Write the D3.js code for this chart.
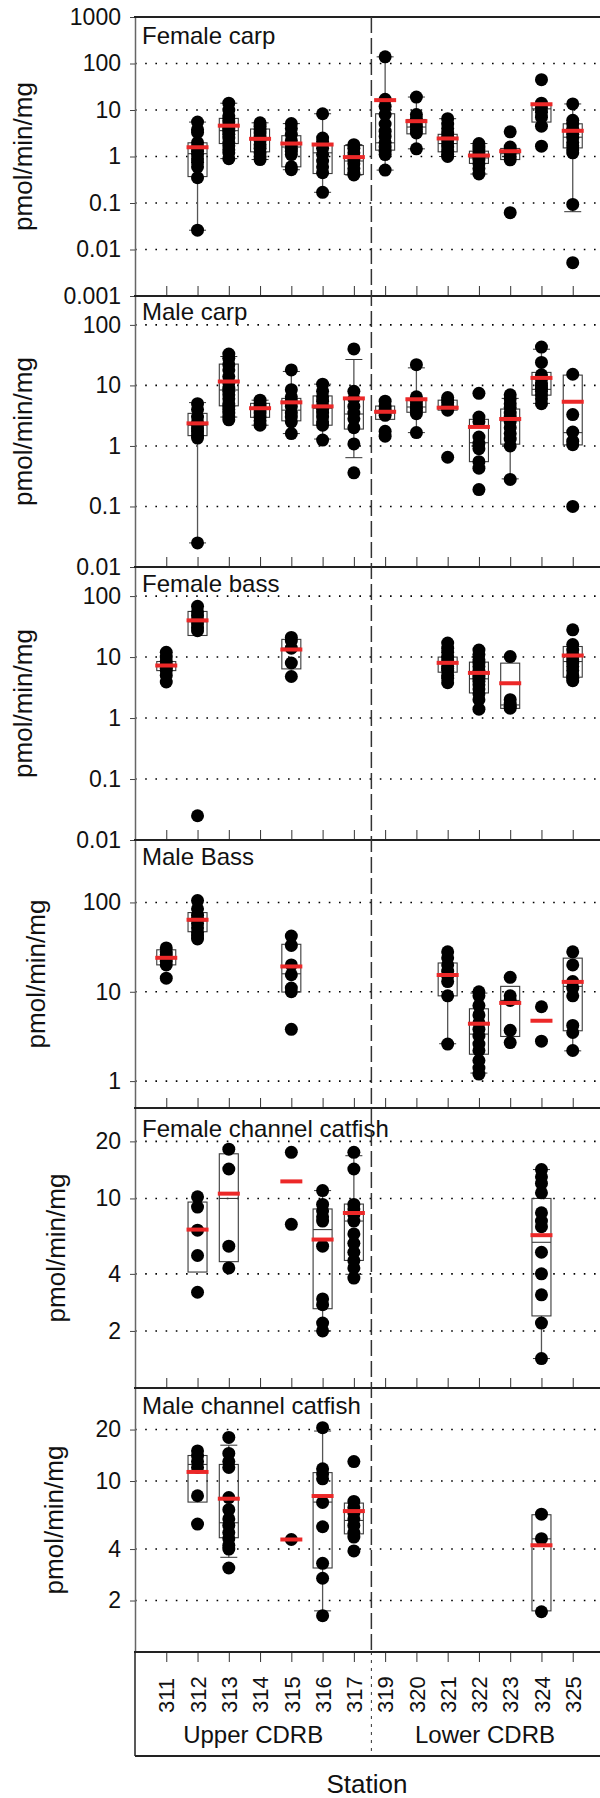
<!DOCTYPE html>
<html>
<head>
<meta charset="utf-8">
<script src="https://cdn.jsdelivr.net/npm/d3@7"></script>
<style>
  body { margin: 0; background: #fff; }
  svg { display: block; font-family: "Liberation Sans", Arial, sans-serif; }
</style>
</head>
<body>
<script>
// categories and labels
const stations = ["311", "312", "313", "314", "315", "316", "317", "319", "320", "321", "322", "323", "324", "325"];
const regions = ["Upper CDRB", "Lower CDRB"];
const panelTitles = ["Female carp", "Male carp", "Female bass", "Male Bass", "Female channel catfish", "Male channel catfish"];
const yTitle = "pmol/min/mg";
const xTitle = "Station";
const yDomains = [[0.001, 1000], [0.01, 300], [0.01, 300], [0.5, 500], [1, 30], [1, 35]];
const yTicks = [
  [0.001, 0.01, 0.1, 1, 10, 100, 1000],
  [0.01, 0.1, 1, 10, 100],
  [0.01, 0.1, 1, 10, 100],
  [1, 10, 100],
  [2, 4, 10, 20],
  [2, 4, 10, 20]
];

// individual fish, one list per station (same order as stations)
const femaleCarpPts = [[], [5.5, 3.8, 3.3, 2.0, 1.6, 1.3, 1.1, 0.9, 0.75, 0.6, 0.35, 0.026], [14, 10, 7.5, 6.5, 5.5, 4.5, 4, 3.5, 3, 2.5, 2, 1.7, 1.4, 1.2, 0.9], [5.3, 4.5, 3.8, 3.2, 2.6, 2.2, 1.8, 1.5, 1.2, 1.0, 0.86], [5.1, 4.0, 3.0, 2.2, 1.8, 1.5, 1.3, 1.1, 0.6, 0.52], [8.3, 2.5, 2.1, 1.5, 1.1, 0.8, 0.6, 0.45, 0.17], [1.8, 1.5, 1.2, 1.0, 0.85, 0.7, 0.55, 0.45, 0.4], [139, 17, 12, 8, 5, 3.5, 2.7, 2, 1.6, 1.3, 1.1, 0.51], [19, 8, 6.5, 5.5, 4.5, 3.8, 3.2, 1.46], [6.5, 5, 4, 3.2, 2.7, 2.3, 1.9, 1.6, 1.3, 1.1, 1.0], [1.9, 1.6, 1.4, 1.2, 1.05, 0.95, 0.85, 0.7, 0.55, 0.42], [3.4, 1.6, 1.4, 1.2, 1.0, 0.85, 0.062], [45, 14, 11, 9, 7, 4.5, 1.67], [13.5, 6, 5, 4, 3.5, 3, 2.5, 2, 1.7, 1.4, 1.2, 0.093, 0.0052]];
// box: [low whisker, q1, median, q3, high whisker]
const femaleCarpBox = [null, [0.026, 0.37, 1.15, 1.97, 5.5], [0.9, 1.9, 3.6, 6.6, 14], [0.86, 1.26, 2.3, 3.9, 5.3], [0.52, 0.6, 1.6, 2.8, 5.1], [0.17, 0.43, 1.2, 1.9, 8.3], [0.4, 0.41, 0.8, 1.72, 1.8], [0.51, 1.37, 1.97, 8.3, 139], [1.46, 3.07, 4.3, 6.25, 19], [1.0, 1.26, 1.9, 3.0, 6.5], [0.42, 0.71, 0.93, 1.3, 1.9], [0.86, 0.86, 1.15, 1.49, 1.49], [5.5, 5.5, 10.6, 13, 13], [0.065, 1.53, 2.6, 5.05, 13.5]];
const femaleCarpMean = [null, 1.58, 4.6, 2.4, 1.9, 1.81, 0.97, 16.3, 5.75, 2.44, 1.05, 1.3, 13.3, 3.57];

const maleCarpPts = [[], [5, 4, 3, 2.5, 2.2, 1.9, 1.7, 1.5, 1.35, 0.025], [33, 28, 22, 18, 14, 11, 9, 8, 7, 6, 5, 4.5, 4, 3.5, 3, 2.7], [5.7, 5, 4.5, 4, 3.5, 3, 2.6, 2.2], [18, 8.5, 6.5, 5.5, 4.5, 3.5, 3, 2.5, 1.6], [10.5, 8, 6.5, 5.5, 4.5, 4, 3.5, 3, 2.5, 2.2, 1.25], [40, 8, 6, 4.5, 3.5, 2.8, 2, 1.08, 0.36], [5.5, 4.5, 4, 3.6, 3.2, 1.75, 1.45], [22, 6.5, 5.5, 4.8, 4.2, 3.8, 3.4, 1.66], [6.3, 5.8, 5.2, 4.6, 4.2, 3.9, 0.65], [7.4, 3.0, 2.5, 1.4, 1.1, 0.9, 0.55, 0.43, 0.19], [7, 6, 5, 4.3, 3.5, 3, 2.5, 2.0, 1.6, 1.3, 1.0, 0.28], [43, 24, 15, 13, 11, 10, 9, 8, 7, 6, 5], [15.3, 3.3, 1.7, 1.2, 1.05, 0.1]];
const maleCarpBox = [null, [0.025, 1.48, 2.2, 3.45, 5.2], [3, 4.6, 8.4, 22.5, 30], [2.2, 2.97, 4.1, 5.05, 5.7], [1.6, 2.6, 3.9, 6.1, 17], [1.3, 2.2, 4.2, 6.7, 10.5], [0.64, 1.9, 3.37, 6.1, 26.8], [2.75, 2.75, 3.5, 4.56, 4.56], [1.66, 3.6, 4.4, 6.1, 19.5], [3.9, 3.9, 4.5, 5.7, 5.7], [0.55, 0.55, 1.13, 2.75, 2.75], [0.286, 1.07, 2.6, 4.07, 6.1], [5.05, 6.9, 8.6, 16.4, 39.6], [1.04, 1.04, 1.66, 14.8, 14.8]];
const maleCarpMean = [null, 2.36, 11.6, 4.2, 5.25, 4.5, 6.1, 3.67, 5.9, 4.28, 2.06, 2.79, 13.3, 5.37];

const femaleBassPts = [[12, 10, 8.5, 7.5, 7, 6.5, 6, 5, 3.9], [68, 55, 47, 40, 35, 30, 27, 0.025], [], [], [21, 18.5, 14, 8, 4.8], [], [], [], [], [17, 14, 12, 10, 9, 8, 7, 6.5, 6, 5, 4.5, 3.8], [13, 11, 9, 8, 7, 6, 5, 4.5, 4, 3.5, 3, 2.5, 2, 1.4], [10.2, 2, 1.7, 1.55, 1.45], [], [28, 16, 13, 11, 10, 9, 8, 7, 6, 5, 4.5, 4.1]];
const femaleBassBox = [[6.0, 6.0, 7.0, 8.45, 8.45], [22.6, 22.6, 38, 56, 56], null, null, [6.4, 6.4, 14, 19.5, 19.5], null, null, null, null, [5.65, 5.65, 8, 10, 10], [2.58, 2.58, 4.4, 8.26, 8.26], [1.44, 1.44, 1.64, 7.95, 7.95], null, [4.68, 4.68, 8.45, 14.9, 14.9]];
const femaleBassMean = [7.27, 40, null, null, 13.3, null, null, null, null, 8.04, 5.5, 3.72, null, 10.6];

const maleBassPts = [[31, 28, 26, 24, 22, 20, 14.2], [105, 85, 72, 65, 58, 52, 46, 42, 39], [], [], [42, 33, 20, 15.5, 11, 10, 3.8], [], [], [], [], [28, 24, 20, 17, 15, 13, 9, 2.6], [10, 9, 7, 5.5, 4.5, 3.8, 3.2, 2.6, 2.2, 1.7, 1.4, 1.2], [14.5, 9, 8, 3.7, 2.7], [6.8, 2.8], [28, 20, 13, 11, 9, 4.2, 3.5, 2.2]];
const maleBassBox = [[20, 20, 24, 29.5, 29.5], [47, 47, 62, 77, 77], null, null, [9.93, 9.93, 15.9, 34, 34], null, null, null, null, [2.62, 9.0, 16, 21, 21], [1.23, 2.0, 3.36, 6.45, 9.67], [3.16, 3.16, 8, 11.5, 11.5], null, [2.18, 3.66, 11.5, 23.8, 23.8]];
const maleBassMean = [24, 64, null, null, 19.2, null, null, null, null, 15.4, 4.39, 7.5, 4.74, 12.9];

const femaleCatfishPts = [[], [10.2, 9, 6.8, 5.0, 3.2], [18.2, 14.3, 5.6, 4.3], [], [17.5, 7.3], [11, 9.3, 8.6, 8, 7.6, 5.6, 2.95, 2.75, 2.2, 2.0], [17.5, 14.3, 9.3, 8.8, 8.2, 7.6, 6.5, 5.8, 5.2, 4.7, 4.3, 3.8], [], [], [], [], [], [14.2, 13, 12, 10.7, 8.4, 7.6, 7.1, 5.2, 4.0, 3.1, 2.2, 1.43], []];
const femaleCatfishBox = [null, [4.09, 4.09, 6.85, 9.57, 9.57], [4.64, 4.64, 10, 17.2, 17.2], null, null, [2.0, 2.62, 6.85, 8.8, 11], [3.98, 4.71, 7.6, 9.34, 16.8], null, null, null, null, null, [1.43, 2.4, 5.87, 10, 14.2], null];
const femaleCatfishMean = [null, 6.85, 10.6, null, 12.3, 6.07, 8.38, null, null, null, null, null, 6.4, null];

const maleCatfishPts = [[], [15, 14, 13, 12, 8.2, 5.6], [18, 14.5, 13, 12, 8, 6.8, 6, 5.5, 5, 4.6, 4.2, 4.0, 3.1], [], [4.55], [20.5, 11.8, 11, 10.3, 7.5, 5.4, 3.3, 2.7, 1.63], [13, 7.6, 7, 6.5, 6, 5.5, 5, 4.7, 3.9], [], [], [], [], [], [6.4, 4.6, 1.72], []];
const maleCatfishBox = [null, [7.53, 7.53, 12.5, 14.1, 14.1], [3.58, 4.66, 5.7, 12.5, 16.2], null, null, [1.74, 3.1, 7.53, 11.2, 19.6], [4.91, 4.91, 5.88, 7.43, 7.43], null, null, null, null, null, [1.74, 1.74, 4.59, 6.35, 6.35], null];
const maleCatfishMean = [null, 11.3, 7.88, null, 4.55, 8.17, 6.67, null, null, null, null, null, 4.21, null];

const allPts = [femaleCarpPts, maleCarpPts, femaleBassPts, maleBassPts, femaleCatfishPts, maleCatfishPts];
const allBox = [femaleCarpBox, maleCarpBox, femaleBassBox, maleBassBox, femaleCatfishBox, maleCatfishBox];
const allMean = [femaleCarpMean, maleCarpMean, femaleBassMean, maleBassMean, femaleCatfishMean, maleCatfishMean];

// layout
const width = 600, height = 1798;
const axisX = 135, rightX = 604;
const edges = [17, 296, 567, 840, 1108, 1388, 1652];
const boxBottom = 1756;
const titleBase = [32, 32, 32, 44.5, 65, 63];   // x of rotated y title baseline
const dotR = 6.5, boxHalf = 9.5, meanHalf = 11, capHalf = 8.5;
const red = "#ec2828", dark = "#222";

const svg = d3.select("body").append("svg")
  .attr("width", width)
  .attr("height", height);

const x = d3.scaleLinear().domain([0, 15]).range([axisX, rightX]);
const xs = i => x(i + 1);
const dividerX = x(7.56);

allPts.forEach((pts, k) => {
  const top = edges[k], bot = edges[k + 1];
  const y = d3.scaleLog().domain(yDomains[k]).range([bot, top]);
  const g = svg.append("g");

  // dotted grid
  g.append("g").selectAll("line")
    .data(yTicks[k].filter(v => y(v) > top + 2 && y(v) < bot - 2))
    .join("line")
    .attr("x1", axisX).attr("x2", rightX)
    .attr("y1", d => y(d)).attr("y2", d => y(d))
    .attr("stroke", "#000")
    .attr("stroke-width", 1.6)
    .attr("stroke-dasharray", "1.6,8.6");

  // y axis
  const ya = g.append("g")
    .attr("transform", `translate(${axisX},0)`)
    .call(d3.axisLeft(y).tickValues(yTicks[k]).tickFormat(d => String(d)).tickSize(5).tickSizeOuter(0).tickPadding(9));
  ya.select(".domain").attr("stroke", "#666").attr("stroke-width", 1.5);
  ya.selectAll(".tick line").attr("stroke", "#444");
  ya.selectAll("text")
    .attr("font-size", 23)
    .attr("font-family", "Liberation Sans, Arial, sans-serif")
    .attr("fill", "#111");

  g.append("text")
    .attr("transform", `translate(${titleBase[k]},${(top + bot) / 2}) rotate(-90)`)
    .attr("text-anchor", "middle")
    .attr("font-size", 26)
    .attr("fill", "#111")
    .text(yTitle);

  // x ticks
  if (k < 5) {
    const xa = g.append("g")
      .attr("transform", `translate(0,${bot})`)
      .call(d3.axisTop(x).tickValues(d3.range(1, 15)).tickFormat("").tickSize(10).tickSizeOuter(0));
    xa.select(".domain").remove();
    xa.selectAll(".tick line").attr("stroke", "#333");
  } else {
    const xa = g.append("g")
      .attr("transform", `translate(0,${bot})`)
      .call(d3.axisBottom(x).tickValues(d3.range(1, 15)).tickFormat(i => stations[i - 1]).tickSize(10).tickSizeOuter(0));
    xa.select(".domain").remove();
    xa.selectAll(".tick line").attr("stroke", "#333");
    xa.selectAll("text")
      .attr("transform", "rotate(-90)")
      .attr("x", -61).attr("y", 0).attr("dy", "0.35em")
      .attr("text-anchor", "start")
      .attr("font-size", 22)
      .attr("font-family", "Liberation Sans, Arial, sans-serif")
      .attr("fill", "#111");
  }

  // boxes and whiskers
  const boxes = allBox[k].map((b, i) => ({ b, i })).filter(d => d.b);
  const bg = g.append("g").attr("fill", "none");
  boxes.forEach(({ b, i }) => {
    const cx = xs(i);
    const [lo, q1, med, q3, hi] = b;
    if (lo < q1) {
      bg.append("line").attr("x1", cx).attr("x2", cx).attr("y1", y(q1)).attr("y2", y(lo)).attr("stroke", "#555").attr("stroke-width", 1.3);
      bg.append("line").attr("x1", cx - capHalf).attr("x2", cx + capHalf).attr("y1", y(lo)).attr("y2", y(lo)).attr("stroke", "#333");
    }
    if (hi > q3) {
      bg.append("line").attr("x1", cx).attr("x2", cx).attr("y1", y(q3)).attr("y2", y(hi)).attr("stroke", "#555").attr("stroke-width", 1.3);
      bg.append("line").attr("x1", cx - capHalf).attr("x2", cx + capHalf).attr("y1", y(hi)).attr("y2", y(hi)).attr("stroke", "#333");
    }
    bg.append("rect")
      .attr("x", cx - boxHalf).attr("width", boxHalf * 2)
      .attr("y", y(q3)).attr("height", y(q1) - y(q3))
      .attr("stroke", "#3a3a3a").attr("stroke-width", 1.1);
    bg.append("line").attr("x1", cx - boxHalf).attr("x2", cx + boxHalf).attr("y1", y(med)).attr("y2", y(med)).attr("stroke", "#3a3a3a").attr("stroke-width", 1.1);
  });

  // dots
  const dots = pts.flatMap((list, i) => list.map(v => ({ i, v })));
  g.append("g").selectAll("circle")
    .data(dots)
    .join("circle")
    .attr("cx", d => xs(d.i))
    .attr("cy", d => y(d.v))
    .attr("r", dotR)
    .attr("fill", "#000");

  // means
  const means = allMean[k].map((v, i) => ({ v, i })).filter(d => d.v != null);
  g.append("g").selectAll("line")
    .data(means)
    .join("line")
    .attr("x1", d => xs(d.i) - meanHalf).attr("x2", d => xs(d.i) + meanHalf)
    .attr("y1", d => y(d.v)).attr("y2", d => y(d.v))
    .attr("stroke", red).attr("stroke-width", 4);

  g.append("text")
    .attr("x", 142).attr("y", [44, 320, 592, 865, 1137, 1414][k])
    .attr("font-size", 24)
    .attr("fill", "#111")
    .text(panelTitles[k]);
});

// frame lines
svg.append("g").selectAll("line")
  .data(edges)
  .join("line")
  .attr("x1", axisX - 1).attr("x2", rightX)
  .attr("y1", d => d).attr("y2", d => d)
  .attr("stroke", dark).attr("stroke-width", 2);

svg.append("line")
  .attr("x1", axisX).attr("x2", axisX).attr("y1", edges[6]).attr("y2", boxBottom)
  .attr("stroke", dark).attr("stroke-width", 1.5);
svg.append("line")
  .attr("x1", axisX).attr("x2", rightX).attr("y1", boxBottom).attr("y2", boxBottom)
  .attr("stroke", dark).attr("stroke-width", 2);

// upper / lower divider
svg.append("line")
  .attr("x1", dividerX).attr("x2", dividerX).attr("y1", edges[0]).attr("y2", edges[6])
  .attr("stroke", "#333").attr("stroke-width", 1.5).attr("stroke-dasharray", "16,5");
svg.append("line")
  .attr("x1", dividerX).attr("x2", dividerX).attr("y1", edges[6]).attr("y2", boxBottom)
  .attr("stroke", "#333").attr("stroke-width", 1).attr("stroke-dasharray", "3,5");

svg.append("g").selectAll("text")
  .data(regions)
  .join("text")
  .attr("x", (d, i) => i === 0 ? (axisX + dividerX) / 2 : 485)
  .attr("y", 1743)
  .attr("text-anchor", "middle")
  .attr("font-size", 24)
  .attr("fill", "#111")
  .text(d => d);

svg.append("text")
  .attr("x", 367).attr("y", 1793)
  .attr("text-anchor", "middle")
  .attr("font-size", 26)
  .attr("fill", "#111")
  .text(xTitle);
</script>
</body>
</html>
